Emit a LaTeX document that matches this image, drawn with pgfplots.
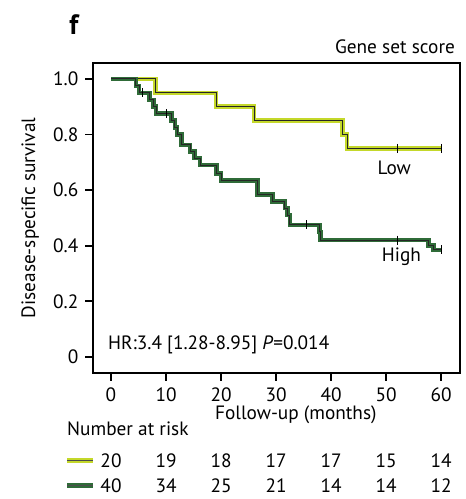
\documentclass[border=0pt]{standalone}
\usepackage{pgfplots}
\pgfplotsset{compat=1.18}
\usepackage{fontspec}
\setmainfont{PT Sans}
\definecolor{lowc}{HTML}{C4D82A}
\definecolor{highc}{HTML}{2F6B38}
\begin{document}
\fontsize{19.3}{23}\selectfont
\begin{tikzpicture}
\begin{axis}[
 scale only axis, width=367pt, height=310pt,
 xmin=-3.27, xmax=63.45, ymin=-0.0576, ymax=1.0576,
 xtick={0,10,20,30,40,50,60}, ytick={0,0.2,0.4,0.6,0.8,1.0},
 yticklabels={0,0.2,0.4,0.6,0.8,1.0},
 tick align=outside, xtick pos=bottom, ytick pos=left,
 major tick length=8pt,
 every tick/.style={black, line width=1.8pt},
 axis line style={line width=2.5pt},
 /pgf/number format/assume math mode=true,
 tick label style={font=\fontsize{19.3}{23}\selectfont},
 clip=false,
]
% invisible frame for proportions
\path (axis cs:-20.18,1.284) rectangle (axis cs:64.36,-0.511);
% Low
\addplot[lowc, line width=4.5pt, const plot, line join=miter] coordinates {
(0,1)(8.1,0.95)(19.1,0.90)(26,0.85)(42.1,0.80)(42.9,0.75)(60,0.75)};
\addplot[black!85, line width=0.9pt, const plot] coordinates {
(0,1)(8.1,0.95)(19.1,0.90)(26,0.85)(42.1,0.80)(42.9,0.75)(60,0.75)};
% High
\addplot[highc, line width=4.5pt, const plot, line join=miter] coordinates {
(0,1)(4.5,0.975)(5.1,0.95)(7.0,0.925)(7.7,0.90)(8.2,0.875)(11.0,0.85)(11.6,0.825)(12.0,0.80)(12.8,0.763)(14.4,0.739)(15.2,0.715)(16.2,0.69)(19.2,0.66)(20.0,0.634)(26.6,0.585)(29.4,0.56)(31.6,0.535)(32.1,0.51)(32.5,0.475)(37.9,0.45)(38.1,0.42)(57.7,0.40)(58.6,0.385)(60,0.385)};
\addplot[black!85, line width=0.9pt, const plot] coordinates {
(0,1)(4.5,0.975)(5.1,0.95)(7.0,0.925)(7.7,0.90)(8.2,0.875)(11.0,0.85)(11.6,0.825)(12.0,0.80)(12.8,0.763)(14.4,0.739)(15.2,0.715)(16.2,0.69)(19.2,0.66)(20.0,0.634)(26.6,0.585)(29.4,0.56)(31.6,0.535)(32.1,0.51)(32.5,0.475)(37.9,0.45)(38.1,0.42)(57.7,0.40)(58.6,0.385)(60,0.385)};
% censor marks
\addplot[only marks, mark=|, mark size=4.5pt, mark options={black, line width=1pt}] coordinates {
(52,0.75)(60,0.75)(5.8,0.95)(10.0,0.875)(35.6,0.475)(52,0.42)(60,0.385)};
% labels
\node[anchor=center] at (axis cs:51.5,0.68) {Low};
\node[anchor=center] at (axis cs:52.8,0.36) {High};
\node[anchor=west, inner sep=0pt] at (axis cs:-0.55,0.043) {HR:3.4 [1.28-8.95] \textit{P}=0.014};
\node[anchor=base east, inner sep=0pt] at (axis cs:62.55,1.092) {Gene set score};
\node[anchor=center, font=\fontsize{28}{32}\selectfont\bfseries] at (axis cs:-6.73,1.194) {f};
\node[anchor=center, rotate=90] at (axis cs:-14.7,0.5) {Disease-specific survival};
\node[anchor=center] at (axis cs:33.6,-0.209) {Follow-up (months)};
\node[anchor=west, inner sep=0pt] at (axis cs:-8,-0.257) {Number at risk};
% number at risk legend swatches
\draw[lowc, line width=5pt] (axis cs:-8,-0.372) -- (axis cs:-3.27,-0.372);
\draw[black!70, line width=0.8pt] (axis cs:-8,-0.372) -- (axis cs:-3.27,-0.372);
\draw[highc, line width=5pt] (axis cs:-8,-0.462) -- (axis cs:-3.27,-0.462);
\draw[black!70, line width=0.8pt] (axis cs:-8,-0.462) -- (axis cs:-3.27,-0.462);
\addplot[draw=none, mark=none, nodes near coords, point meta=explicit symbolic,
 every node near coord/.style={anchor=center, inner sep=0pt}] table[meta=n] {
x y n
0 -0.372 20
10 -0.372 19
20 -0.372 18
30 -0.372 17
40 -0.372 17
50 -0.372 15
60 -0.372 14
0 -0.462 40
10 -0.462 34
20 -0.462 25
30 -0.462 21
40 -0.462 14
50 -0.462 14
60 -0.462 12
};
\end{axis}
\end{tikzpicture}
\end{document}
